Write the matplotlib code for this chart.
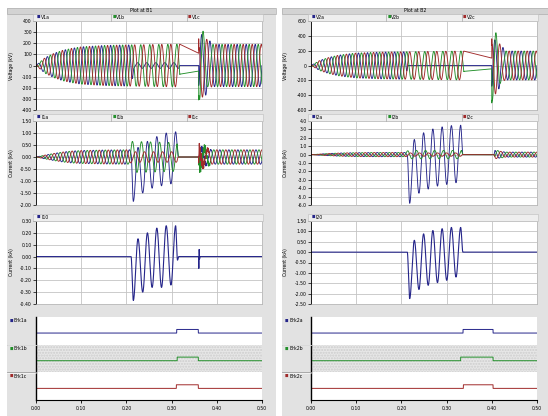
"""
PSCAD style plots at bus B1 / B2: phase voltages, phase currents,
neutral current and breaker states
"""
import numpy as np
import matplotlib.pyplot as plt
from matplotlib.patches import Rectangle

W, H = 548, 416
FREQ = 50.0
t = np.linspace(0, 0.5, 20001)

# ---- data -----------------------------------------------------------------
ramp_t = [0.0, 0.02, 0.04, 0.06, 0.08, 0.10, 0.15, 0.20]
ramp_v = [0, 70, 110, 138, 155, 168, 180, 185]          # kV peak
ramp_i1 = [0, 0.08, 0.15, 0.21, 0.25, 0.27, 0.29, 0.30]  # kA peak
ramp_i2 = [0, 0.07, 0.13, 0.18, 0.21, 0.23, 0.25, 0.25]

# B1 voltages: envelope, trapped charge, reclosing transient
v1a_t = ramp_t + [0.212, 0.216, 0.316, 0.318, 0.360, 0.363, 0.50]
v1a_a = ramp_v + [185, 25, 25, 0, 0, 190, 190]
v1bc_t = ramp_t + [0.318, 0.3182, 0.360, 0.363, 0.50]
v1bc_a = ramp_v + [192, 0, 0, 190, 190]
v1_dc_t = [0, 0.318, 0.3182, 0.360, 0.3602, 0.5]
v1b_dc = [0, 0, -78, -50, 0, 0]
v1c_dc = [0, 0, 191, 110, 0, 0]
v1_ring = [180, 260, -130]

# B2 voltages
v2a_t = ramp_t + [0.211, 0.214, 0.400, 0.403, 0.50]
v2a_a = ramp_v + [185, 0, 0, 195, 195]
v2bc_t = ramp_t + [0.338, 0.3382, 0.400, 0.403, 0.50]
v2bc_a = ramp_v + [195, 0, 0, 195, 195]
v2_dc_t = [0, 0.338, 0.3382, 0.400, 0.4002, 0.5]
v2b_dc = [0, 0, -79, -45, 0, 0]
v2c_dc = [0, 0, 194, 100, 0, 0]
v2_ring = [280, 460, -260]

# B1 currents
i1a_t = ramp_t + [0.2103, 0.2104, 0.360, 0.3605, 0.39, 0.50]
i1a_a = ramp_i1 + [0.30, 0, 0, 0.35, 0.30, 0.30]
i1bc_t = ramp_t + [0.205, 0.212, 0.312, 0.315, 0.360, 0.3605, 0.39, 0.50]
i1b_a = ramp_i1 + [0.30, 0.65, 0.60, 0, 0, 0.40, 0.30, 0.30]
i1c_a = ramp_i1 + [0.30, 0.22, 0.22, 0, 0, 0.35, 0.30, 0.30]
i1_hf = [0.15, 0.30, 0.25]
i1_pk_t = [0.2153, 0.2257, 0.2361, 0.2465, 0.2569, 0.2673, 0.2777, 0.2881, 0.2985, 0.3089]
i1a_pk = [-1.85, 0.40, -1.50, 0.65, -1.30, 0.85, -1.20, 1.00, -1.12, 1.05]
i10_pk = [-0.37, 0.15, -0.30, 0.20, -0.26, 0.24, -0.26, 0.26, -0.24, 0.26]
i10_spk_t = [0.3595, 0.3602, 0.3610, 0.3618, 0.3630]
i10_spk = [0, -0.10, 0.06, -0.02, 0]

# B2 currents
i2a_t = ramp_t + [0.213, 0.2131, 0.405, 0.407, 0.43, 0.50]
i2a_a = ramp_i2 + [0.25, 0, 0, 0.50, 0.30, 0.30]
i2bc_t = ramp_t + [0.208, 0.215, 0.333, 0.336, 0.405, 0.407, 0.43, 0.50]
i2b_a = ramp_i2 + [0.25, 0.50, 0.50, 0, 0, 0.55, 0.30, 0.30]
i2c_a = ramp_i2 + [0.25, 0.20, 0.20, 0, 0, 0.50, 0.30, 0.30]
i2_pk_t = [0.2183, 0.2286, 0.2388, 0.2491, 0.2593, 0.2696, 0.2798, 0.2901,
           0.3003, 0.3106, 0.3208, 0.3311]
i2a_pk = [-5.8, 1.8, -4.6, 2.6, -4.1, 3.05, -3.75, 3.3, -3.55, 3.45, -3.35, 3.5]
i20_pk = [-2.24, 0.57, -1.80, 0.88, -1.60, 1.04, -1.47, 1.13, -1.36, 1.19, -1.20, 1.19]

# breaker signals (a, b, c): time high / time low
brk1_on = [0.3112, 0.3123, 0.3104]
brk1_off = [0.359, 0.359, 0.359]
brk2_on = [0.3363, 0.3310, 0.3370]
brk2_off = [0.4027, 0.4027, 0.4027]

CA, CB, CC = '#25258a', '#23902b', '#a02a2a'
BG = '#e2e2e2'


# ---- waveform helpers ------------------------------------------------------
def wave(tk, ak, ph, dc_t=None, dc_v=None):
    y = np.interp(t, tk, ak) * np.sin(2 * np.pi * FREQ * t + np.radians(ph))
    if dc_t is not None:
        y = y + np.interp(t, dc_t, dc_v)
    return y


def ring(t0, amp, f, dur):
    e = np.clip(1 - (t - t0) / dur, 0, 1) * (t >= t0)
    return -amp * e * np.cos(2 * np.pi * f * (t - t0))


def swing(tk, vk):
    tk = np.asarray(tk, float)
    vk = np.asarray(vk, float)
    i = np.clip(np.searchsorted(tk, t, side='right') - 1, 0, len(tk) - 2)
    u = np.clip((t - tk[i]) / (tk[i + 1] - tk[i]), 0, 1)
    y = vk[i] + (vk[i + 1] - vk[i]) * (1 - np.cos(np.pi * u)) / 2
    return np.where((t >= tk[0]) & (t <= tk[-1]), y, 0.0)


def with_fault(load, t0, pk_t, pk_v, t1):
    y = load.copy()
    m = (t >= t0) & (t <= t1)
    y0 = np.interp(t0, t, load)
    y[m] = swing([t0] + pk_t + [t1], [y0] + pk_v + [0.0])[m]
    return y


# ---- build signals -----------------------------------------------------------
v1 = [wave(v1a_t, v1a_a, 0) + ring(0.36, v1_ring[0], 60, 0.03),
      wave(v1bc_t, v1bc_a, -120, v1_dc_t, v1b_dc) + ring(0.36, v1_ring[1], 60, 0.03),
      wave(v1bc_t, v1bc_a, 120, v1_dc_t, v1c_dc) + ring(0.36, v1_ring[2], 60, 0.03)]
v2 = [wave(v2a_t, v2a_a, 0) + ring(0.40, v2_ring[0], 60, 0.03),
      wave(v2bc_t, v2bc_a, -120, v2_dc_t, v2b_dc) + ring(0.40, v2_ring[1], 60, 0.03),
      wave(v2bc_t, v2bc_a, 120, v2_dc_t, v2c_dc) + ring(0.40, v2_ring[2], 60, 0.03)]

i1 = [with_fault(wave(i1a_t, i1a_a, -30), 0.2103, i1_pk_t, i1a_pk, 0.315)
      + ring(0.36, i1_hf[0], 450, 0.03),
      wave(i1bc_t, i1b_a, -150) + ring(0.36, i1_hf[1], 450, 0.03),
      wave(i1bc_t, i1c_a, 90) + ring(0.36, i1_hf[2], 450, 0.03)]
i2 = [with_fault(wave(i2a_t, i2a_a, -30), 0.213, i2_pk_t, i2a_pk, 0.336),
      wave(i2bc_t, i2b_a, -150),
      wave(i2bc_t, i2c_a, 90)]

i10 = swing([0.2103] + i1_pk_t + [0.313, 0.316], [0] + i10_pk + [-0.03, 0]) \
    + swing(i10_spk_t, i10_spk)
i20 = swing([0.213] + i2_pk_t + [0.336], [0] + i20_pk + [0])

# ---- figure ------------------------------------------------------------------
fig = plt.figure(figsize=(W / 100, H / 100), dpi=100)
fig.patch.set_facecolor('white')


def box(x0, y0, x1, y1, **kw):
    fig.add_artist(Rectangle((x0 / W, 1 - y1 / H), (x1 - x0) / W, (y1 - y0) / H,
                             transform=fig.transFigure, **kw))


def line(x0, y0, x1, y1, **kw):
    fig.add_artist(plt.Line2D([x0 / W, x1 / W], [1 - y0 / H, 1 - y1 / H],
                              transform=fig.transFigure, **kw))


def axes_px(x0, y0, x1, y1):
    return fig.add_axes([x0 / W, 1 - y1 / H, (x1 - x0) / W, (y1 - y0) / H])


def analog(px0, px1, y0, y1, series, names, yl, ticks, fmt, ylabel, col_x0, lw=0.65):
    # legend strip
    box(px0 - 3, y0 - 7, px1 + 1, y0, fc='#eeeeee', ec='#bcbcbc', lw=0.4, zorder=2)
    cw = (px1 - px0) / 3
    for k, (nm, c) in enumerate(names):
        if k:
            line(px0 + k * cw, y0 - 7, px0 + k * cw, y0, color='#a8a8a8', lw=0.5, zorder=3)
        fig.text((px0 + k * cw + 1) / W, 1 - (y0 - 3.6) / H, '\u25a0', color=c,
                 fontsize=2.6, va='center', ha='left', zorder=4)
        fig.text((px0 + k * cw + 5) / W, 1 - (y0 - 3.6) / H, nm,
                 fontsize=3.3, va='center', ha='left', zorder=4)
    ax = axes_px(px0, y0, px1, y1)
    for y, c in zip(series, [CA, CB, CC]):
        ax.plot(t, y, color=c, lw=lw)
    ax.set_xlim(0, 0.5)
    ax.set_ylim(*yl)
    ax.set_xticks(np.arange(0, 0.51, 0.1))
    ax.set_xticklabels([])
    ax.set_yticks(ticks)
    ax.set_yticklabels([fmt.format(0.0 if abs(v) < 1e-9 else v) for v in ticks])
    ax.tick_params(axis='x', length=0)
    ax.tick_params(axis='y', labelsize=3.3, length=2, width=0.5, pad=1)
    ax.grid(True, color='#c4c4c4', lw=0.6)
    ax.set_axisbelow(True)
    for s in ['top', 'right', 'bottom']:
        ax.spines[s].set_color('#b0b0b0')
        ax.spines[s].set_linewidth(0.5)
    ax.spines['left'].set_linewidth(0.6)
    fig.text((col_x0 + 4) / W, 1 - (y0 + y1) / 2 / H, ylabel, rotation=90,
             fontsize=3.3, va='center', ha='center')
    return ax


def digital(px0, px1, on, off, names, col_x0):
    y0, y1 = 317, 400
    ax = axes_px(px0, y0, px1, y1)
    ax.set_xlim(0, 0.5)
    ax.set_ylim(0, 3)
    ax.axhspan(1, 2, facecolor='#e7e7e7', edgecolor='#cdcdcd', hatch='......', lw=0)
    for k, c in enumerate([CA, CB, CC]):
        state = ((t >= on[k]) & (t < off[k])).astype(float)
        ax.plot(t, (2 - k) + 0.42 + 0.13 * state, color=c, lw=0.7)
    ax.set_yticks([])
    ax.set_xticks(np.arange(0, 0.51, 0.1))
    ax.set_xticklabels(['0.00', '0.10', '0.20', '0.30', '0.40', '0.50'])
    ax.tick_params(axis='x', labelsize=3.3, length=2.5, width=0.6, pad=2)
    for s in ['top', 'right']:
        ax.spines[s].set_visible(False)
    ax.spines['left'].set_linewidth(1.0)
    ax.spines['bottom'].set_linewidth(0.8)
    rh = (y1 - y0) / 3
    for k, (nm, c) in enumerate(zip(names, [CA, CB, CC])):
        yt = y0 + k * rh
        if k:
            line(col_x0, yt, px0, yt, color='#a0a0a0', lw=0.6, zorder=3)
            line(col_x0, yt + 0.6, px0, yt + 0.6, color='white', lw=0.4, zorder=3)
        fig.text((col_x0 + 3) / W, 1 - (yt + 4) / H, '\u25a0', color=c,
                 fontsize=2.6, va='center', ha='left')
        fig.text((col_x0 + 7) / W, 1 - (yt + 4) / H, nm, fontsize=3.3,
                 va='center', ha='left')


columns = [
    dict(cx0=7, cx1=276, px0=36, px1=262, title='Plot at B1', v=v1, i=i1, n=i10,
         vnames=['V1a', 'V1b', 'V1c'], inames=['I1a', 'I1b', 'I1c'], nname='I10',
         vl=(-400, 400), vt=np.arange(-400, 401, 100), vf='{:.0f}',
         il=(-2.0, 1.5), it=np.arange(-2.0, 1.51, 0.5), iff='{:.2f}',
         nl=(-0.4, 0.3), nt=np.arange(-0.4, 0.31, 0.1), nf='{:.2f}',
         bnames=['Brk1a', 'Brk1b', 'Brk1c'], on=brk1_on, off=brk1_off),
    dict(cx0=282, cx1=548, px0=311, px1=537, title='Plot at B2', v=v2, i=i2, n=i20,
         vnames=['V2a', 'V2b', 'V2c'], inames=['I2a', 'I2b', 'I2c'], nname='I20',
         vl=(-600, 600), vt=np.arange(-600, 601, 200), vf='{:.0f}',
         il=(-6.0, 4.0), it=np.arange(-6.0, 4.01, 1.0), iff='{:.1f}',
         nl=(-2.5, 1.5), nt=np.arange(-2.5, 1.51, 0.5), nf='{:.2f}',
         bnames=['Brk2a', 'Brk2b', 'Brk2c'], on=brk2_on, off=brk2_off),
]

for c in columns:
    box(c['cx0'], 8, c['cx1'], H, fc=BG, ec='none', zorder=-10)
    box(c['cx0'], 8, c['cx1'], 14, fc='#d3d3d3', ec='#a4a4a4', lw=0.4, zorder=1)
    fig.text((c['cx0'] + c['cx1']) / 2 / W, 1 - 11 / H, c['title'], fontsize=3.3,
             ha='center', va='center')
    analog(c['px0'], c['px1'], 21, 110, c['v'], list(zip(c['vnames'], [CA, CB, CC])),
           c['vl'], c['vt'], c['vf'], 'Voltage (kV)', c['cx0'])
    analog(c['px0'], c['px1'], 121, 205, c['i'], list(zip(c['inames'], [CA, CB, CC])),
           c['il'], c['it'], c['iff'], 'Current (kA)', c['cx0'])
    analog(c['px0'], c['px1'], 221, 304, [c['n']], [(c['nname'], CA)],
           c['nl'], c['nt'], c['nf'], 'Current (kA)', c['cx0'], lw=0.8)
    digital(c['px0'], c['px1'], c['on'], c['off'], c['bnames'], c['cx0'])

fig.savefig('out.png', dpi=100)
